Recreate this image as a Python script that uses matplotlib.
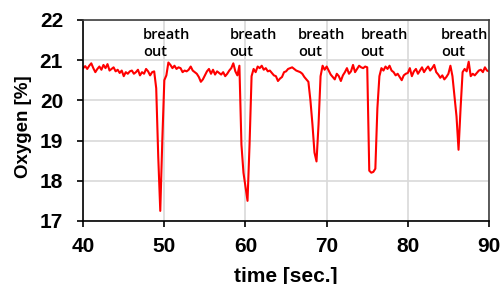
import matplotlib.pyplot as plt
import numpy as np

# oxygen reading, sampled every 0.25 s from 40 s to 90 s
t_start = 40.0
t_step = 0.25
oxygen = [
    20.80, 20.85, 20.78, 20.86,
    20.92, 20.80, 20.70, 20.78,
    20.84, 20.76, 20.88, 20.80,
    20.90, 20.74, 20.78, 20.82,
    20.72, 20.76, 20.68, 20.74,
    20.60, 20.70, 20.66, 20.72,
    20.74, 20.66, 20.70, 20.76,
    20.62, 20.70, 20.66, 20.78,
    20.72, 20.62, 20.70, 20.72,
    20.30, 18.60, 17.25, 19.00,
    20.50, 20.62, 20.94, 20.88,
    20.80, 20.86, 20.78, 20.82,
    20.80, 20.70, 20.74, 20.72,
    20.76, 20.84, 20.74, 20.70,
    20.66, 20.58, 20.46, 20.52,
    20.62, 20.72, 20.78, 20.66,
    20.76, 20.64, 20.72, 20.68,
    20.64, 20.70, 20.60, 20.66,
    20.74, 20.80, 20.92, 20.72,
    20.62, 20.86, 18.90, 18.20,
    17.85, 17.50, 18.90, 20.60,
    20.78, 20.70, 20.84, 20.80,
    20.86, 20.76, 20.80, 20.72,
    20.74, 20.68, 20.62, 20.60,
    20.48, 20.54, 20.58, 20.70,
    20.72, 20.78, 20.80, 20.82,
    20.78, 20.74, 20.72, 20.70,
    20.66, 20.58, 20.52, 20.46,
    20.00, 19.40, 18.70, 18.48,
    19.40, 20.60, 20.86, 20.76,
    20.84, 20.74, 20.64, 20.58,
    20.52, 20.66, 20.60, 20.48,
    20.62, 20.70, 20.80, 20.66,
    20.72, 20.88, 20.70, 20.78,
    20.86, 20.82, 20.80, 20.84,
    20.82, 18.25, 18.20, 18.22,
    18.30, 19.80, 20.60, 20.80,
    20.74, 20.84, 20.78, 20.86,
    20.74, 20.70, 20.62, 20.66,
    20.58, 20.50, 20.62, 20.66,
    20.68, 20.80, 20.60, 20.72,
    20.78, 20.66, 20.74, 20.82,
    20.70, 20.78, 20.84, 20.74,
    20.80, 20.88, 20.70, 20.64,
    20.56, 20.62, 20.52, 20.58,
    20.66, 20.86, 20.60, 20.10,
    19.60, 18.77, 19.80, 20.70,
    20.78, 20.72, 20.96, 20.60,
    20.66, 20.62, 20.68, 20.74,
    20.76, 20.70, 20.82, 20.74,
    20.72,
]
time = t_start + t_step * np.arange(len(oxygen))

label_x = [47.4, 58.0, 66.5, 74.2, 84.1]
label_text = 'breath\nout'

fig = plt.figure(figsize=(5.01, 2.84), dpi=100)
ax = fig.add_axes([0.166, 0.222, 0.81, 0.708])

ax.plot(time, oxygen, color='red', lw=1.5)

for x in label_x:
    ax.text(x, 21.8, label_text, ha='left', va='top', fontsize=10.5,
            family='Open Sans', weight='semibold', linespacing=1.3)

ax.set_xlim(40, 90)
ax.set_ylim(17, 22)
ax.set_xticks([40, 50, 60, 70, 80, 90])
ax.set_yticks([17, 18, 19, 20, 21, 22])
ax.grid(True, color='#d9d9d9', lw=1.2)
ax.set_axisbelow(True)
for s in ax.spines.values():
    s.set_color('#404040')
    s.set_linewidth(1.2)
ax.spines['left'].set_color('black')
ax.spines['bottom'].set_color('black')
ax.tick_params(length=4.5, width=1.2, labelsize=15)
ax.tick_params(axis='x', pad=7)
ax.tick_params(axis='y', pad=10)
for lbl in ax.get_xticklabels() + ax.get_yticklabels():
    lbl.set_fontweight('bold')
    lbl.set_family('Liberation Sans')

ax.set_xlabel('time [sec.]', fontsize=15, weight='bold', family='Liberation Sans', va='center')
ax.set_ylabel('Oxygen [%]', fontsize=13.5, weight='bold', family='Liberation Sans', va='center')
ax.xaxis.set_label_coords(0.5, -0.274)
ax.yaxis.set_label_coords(-0.148, 0.47)

plt.savefig('out.png')
